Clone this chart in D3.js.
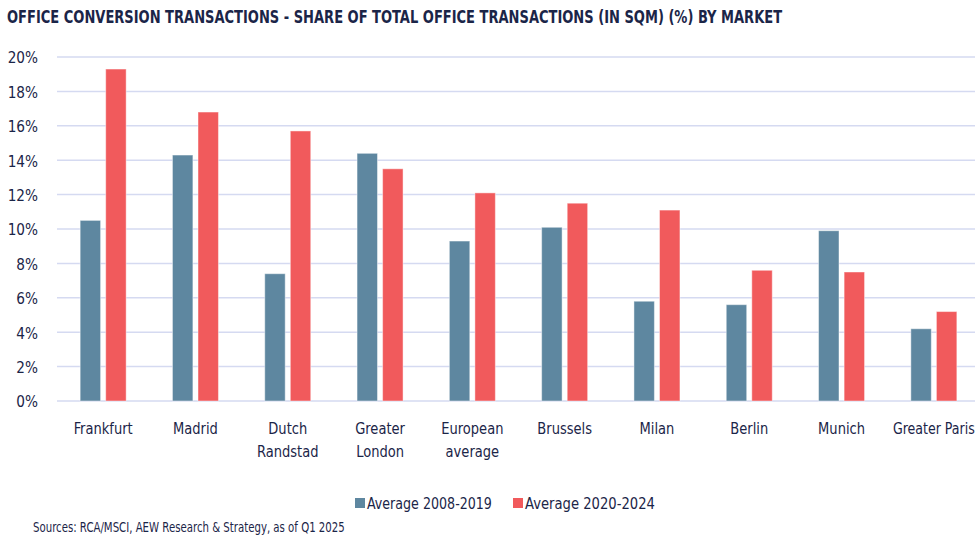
<!DOCTYPE html>
<html>
<head>
<meta charset="utf-8">
<script src="https://cdn.jsdelivr.net/npm/d3@7/dist/d3.min.js"></script>
<style>
  html, body { margin: 0; padding: 0; background: #fff; }
  svg { display: block; }
  text { font-family: "Liberation Sans Narrow", "DejaVu Sans Condensed", "Roboto Condensed", sans-serif; fill: #1b2548; }
</style>
</head>
<body>
<svg id="chart" width="980" height="538"></svg>
<script>
const categories = ["Frankfurt", "Madrid", "Dutch\nRandstad", "Greater\nLondon", "European\naverage", "Brussels", "Milan", "Berlin", "Munich", "Greater Paris"];
const seriesNames = ["Average 2008-2019", "Average 2020-2024"];
const avg2008_2019 = [10.5, 14.3, 7.4, 14.4, 9.3, 10.1, 5.8, 5.6, 9.9, 4.2];
const avg2020_2024 = [19.3, 16.8, 15.7, 13.5, 12.1, 11.5, 11.1, 7.6, 7.5, 5.2];
const yTicks = [0, 2, 4, 6, 8, 10, 12, 14, 16, 18, 20];
const colors = ["#5e87a0", "#f15a5c"];
const titleText = "OFFICE CONVERSION TRANSACTIONS - SHARE OF TOTAL OFFICE TRANSACTIONS (IN SQM) (%) BY MARKET";
const sourceText = "Sources: RCA/MSCI, AEW Research & Strategy, as of Q1 2025";

const svg = d3.select("#chart");
const series = [avg2008_2019, avg2020_2024];

const x = d3.scaleBand().domain(categories).range([57, 980]).padding(0);
const bw = x.bandwidth();
const xs = d3.scaleBand().domain([0, 1]).range([bw / 2 - 23, bw / 2 + 23]).paddingInner(0.2);
const y = d3.scaleLinear().domain([0, 20]).range([401, 57]);

// fit text helpers (horizontal scaling keeps the real bounding box)
function fitScale(sel, tx, ty, f, maxW) {
  sel.each(function() {
    const len = this.getComputedTextLength();
    let s = f;
    if (maxW && len * s > maxW) s = maxW / len;
    d3.select(this).attr("x", 0).attr("y", 0)
      .attr("transform", `translate(${tx},${ty}) scale(${s},1)`);
  });
}
function fitWidth(sel, tx, ty, w) {
  sel.each(function() {
    const len = this.getComputedTextLength();
    d3.select(this).attr("x", 0).attr("y", 0)
      .attr("transform", `translate(${tx},${ty}) scale(${w / len},1)`);
  });
}

// title
svg.append("text").attr("font-size", 18).attr("font-weight", "bold")
  .text(titleText).call(fitWidth, 7, 22.5, 776);

// y axis labels
const yAxis = d3.axisLeft(y).tickValues(yTicks).tickSize(0).tickFormat(d => d + "%");
const gy = svg.append("g").attr("transform", "translate(38,0)").call(yAxis);
gy.select(".domain").remove();
gy.selectAll("text").attr("font-size", 16.5).attr("dy", "0.36em").style("fill", "#1b2548")
  .call(fitScale, 0, 0, 0.92);

// gridlines
svg.append("g").selectAll("line").data(yTicks).join("line")
  .attr("x1", 57).attr("x2", 975)
  .attr("y1", d => y(d)).attr("y2", d => y(d))
  .attr("stroke", "#d5daf1").attr("stroke-width", 1.5);

// bars
const groups = svg.append("g").selectAll("g").data(categories).join("g")
  .attr("transform", d => `translate(${x(d)},0)`);
groups.selectAll("rect").data((d, i) => series.map((s, j) => ({ j, v: s[i] }))).join("rect")
  .attr("x", d => xs(d.j))
  .attr("width", xs.bandwidth())
  .attr("y", d => y(d.v))
  .attr("height", d => y(0) - y(d.v))
  .attr("fill", d => colors[d.j])
  .attr("stroke", "#ffffff").attr("stroke-opacity", 0.45).attr("stroke-width", 1);

// x axis labels
const xAxis = d3.axisBottom(x).tickSize(0).tickFormat("");
const gx = svg.append("g").attr("transform", "translate(0,401)").call(xAxis);
gx.select(".domain").remove();
gx.selectAll(".tick").each(function(d) {
  const g = d3.select(this);
  d.split("\n").forEach((line, k) => {
    g.append("text")
      .attr("text-anchor", "middle").attr("font-size", 16.5).style("fill", "#1b2548")
      .text(line)
      .call(fitScale, 0, 32.5 + k * 23.5, 0.88, 82);
  });
});

// legend
const legendX = [355, 513];
const legendW = [125, 130];
seriesNames.forEach((n, i) => {
  svg.append("rect").attr("x", legendX[i]).attr("y", 498).attr("width", 10).attr("height", 10).attr("fill", colors[i]);
  svg.append("text").attr("font-size", 16)
    .text(n).call(fitWidth, legendX[i] + 12, 509, legendW[i]);
});

// source
svg.append("text").attr("font-size", 14)
  .text(sourceText).call(fitWidth, 33, 531.5, 312);
</script>
</body>
</html>
